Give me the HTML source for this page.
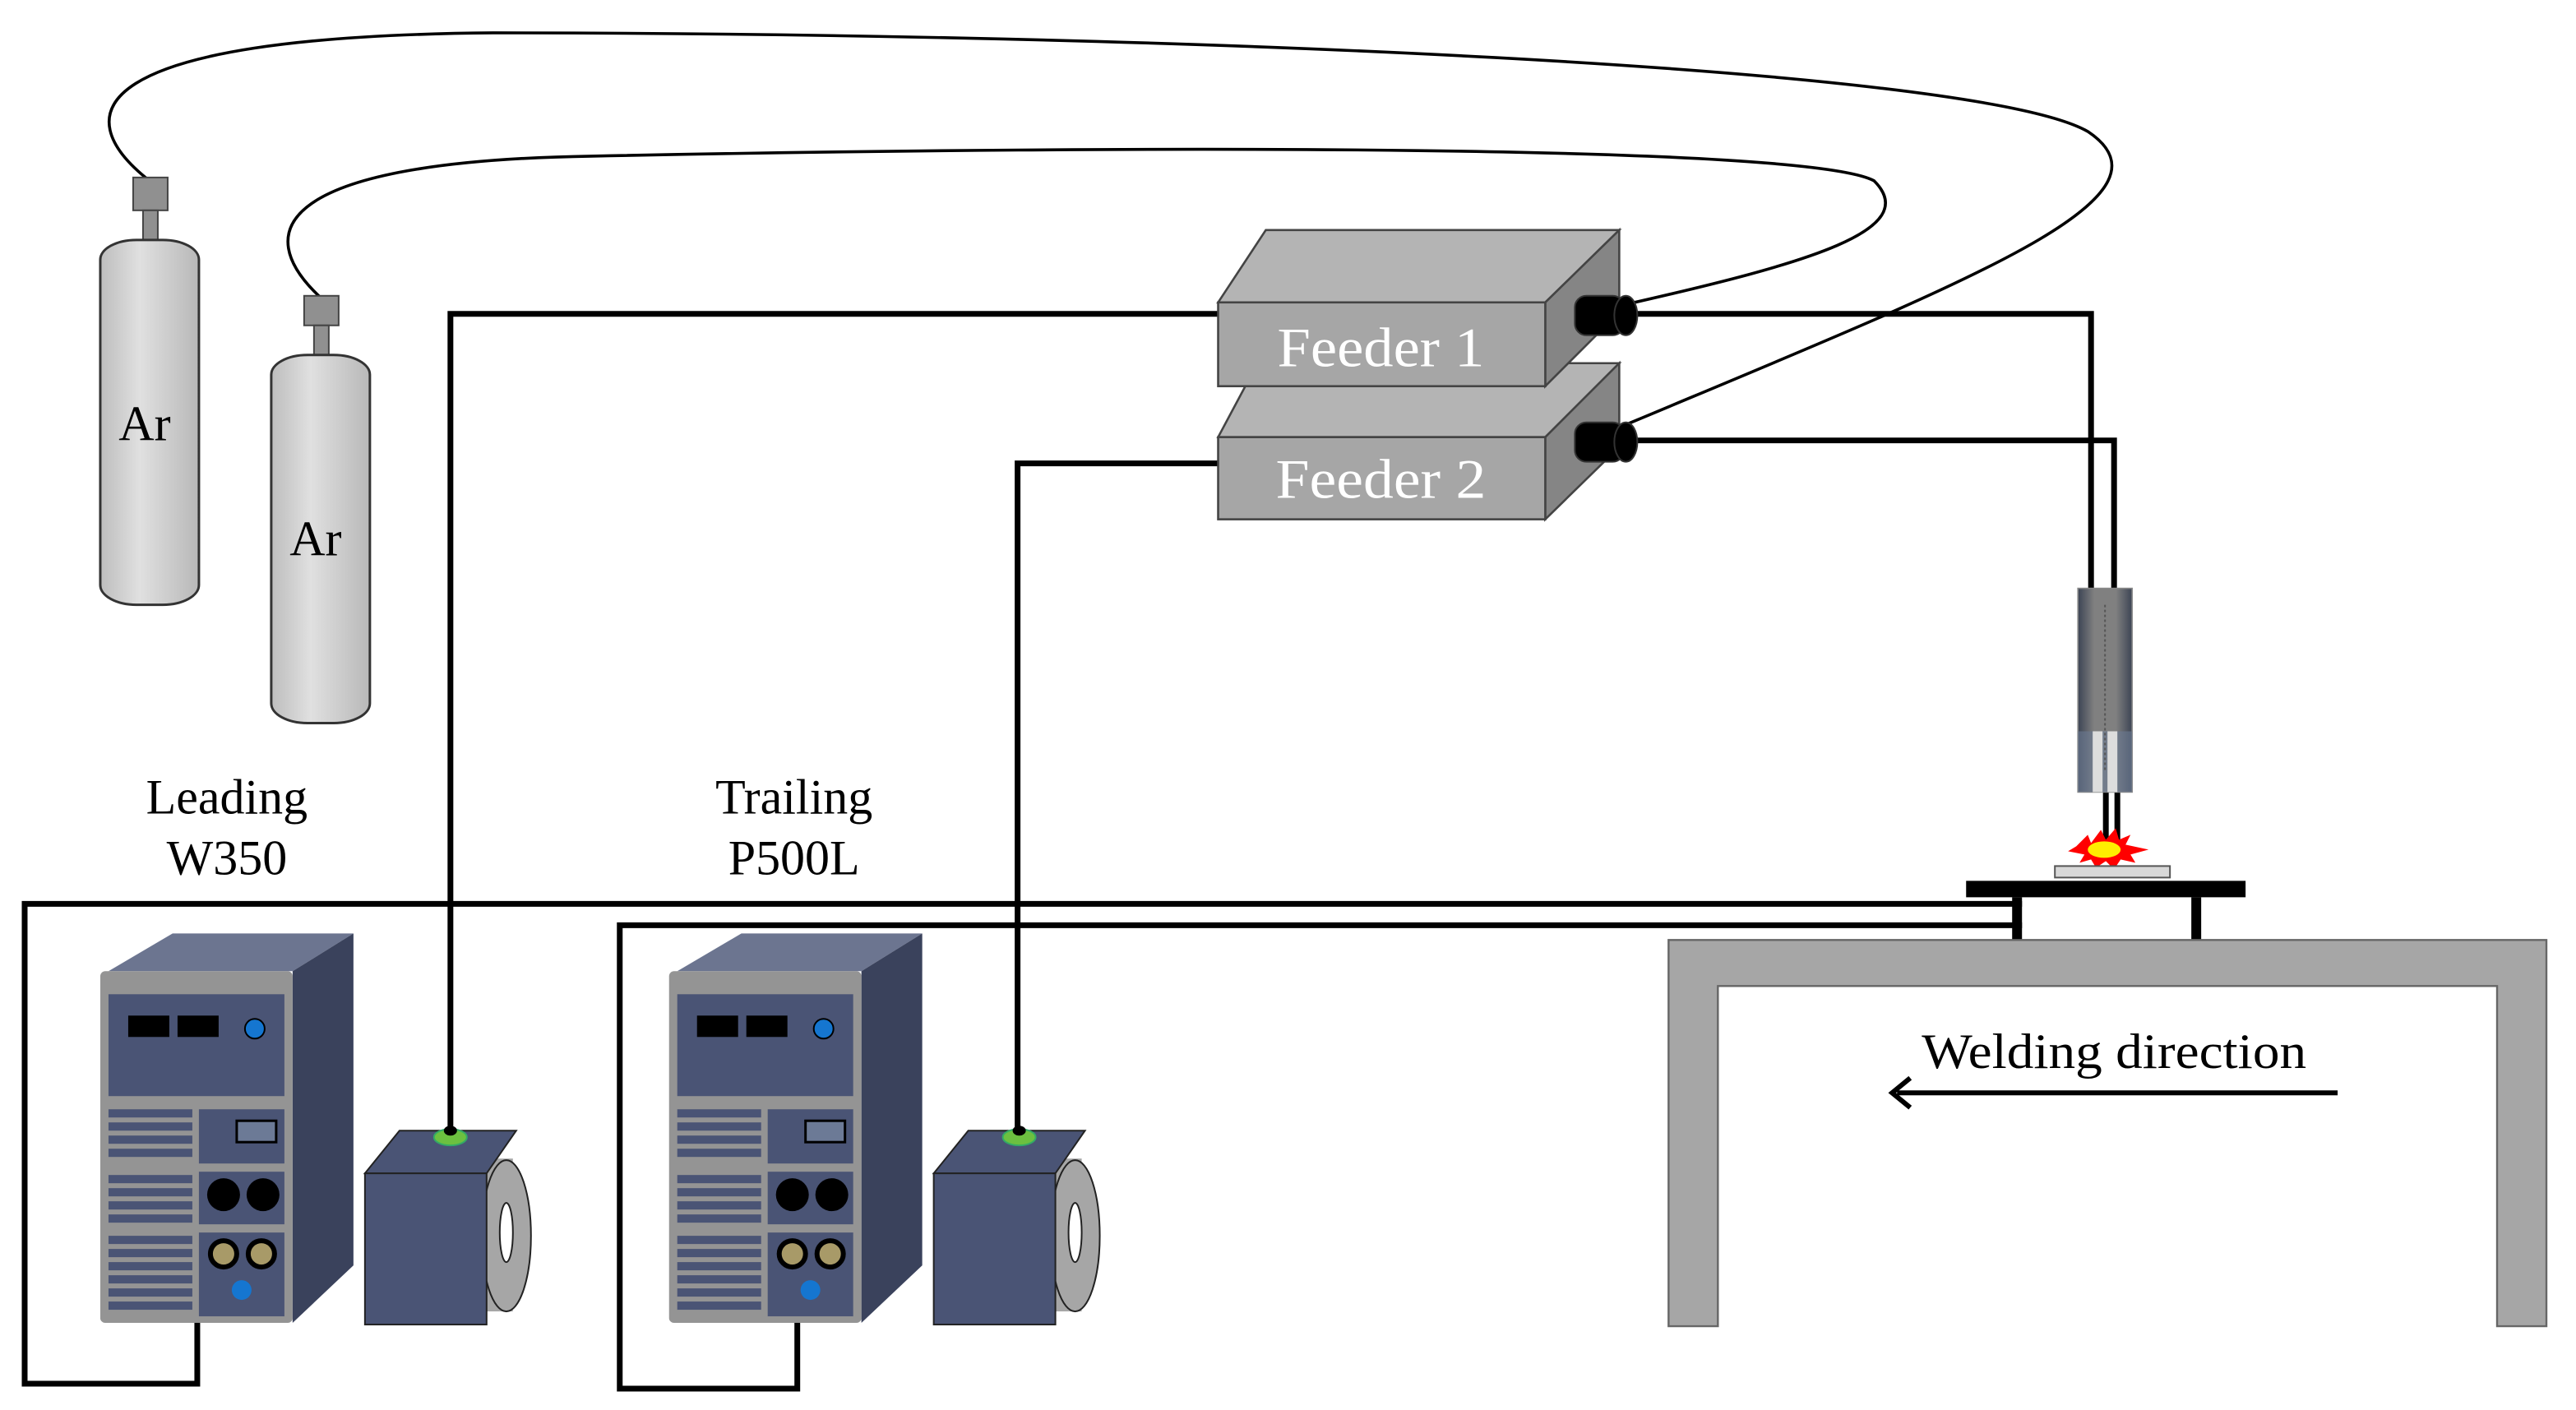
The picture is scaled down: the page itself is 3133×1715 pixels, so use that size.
<!DOCTYPE html>
<html><head><meta charset="utf-8"><style>html,body{margin:0;padding:0;background:#fff}svg{display:block}</style></head>
<body>
<svg width="3133" height="1715" viewBox="0 0 1567 858" preserveAspectRatio="none" xmlns="http://www.w3.org/2000/svg" font-family="Liberation Serif, serif">
<defs>
<linearGradient id="tg" x1="0" x2="1"><stop offset="0" stop-color="#3c4454"/><stop offset="0.3" stop-color="#808080"/><stop offset="0.7" stop-color="#808080"/><stop offset="1" stop-color="#3c4454"/></linearGradient>
<linearGradient id="cg" x1="0" x2="1"><stop offset="0" stop-color="#bdbdbd"/><stop offset="0.4" stop-color="#e0e0e0"/><stop offset="1" stop-color="#b8b8b8"/></linearGradient>
</defs>
<path d="M91,110 C40,70 50,22 300,20 C700,20 1200,40 1270,80 C1330,120 1200,170 990,258" fill="none" stroke="#000" stroke-width="1.8"/>
<path d="M196,182 C150,140 170,98 360,95 C700,88 1100,88 1140,110 C1170,140 1100,160 990,185" fill="none" stroke="#000" stroke-width="1.8"/>
<rect x="81" y="108" width="21" height="20" fill="#909090" stroke="#444"/>
<rect x="87" y="128" width="9" height="18" fill="#909090" stroke="#444"/>
<rect x="61" y="146" width="60" height="222" rx="22" ry="12" fill="url(#cg)" stroke="#333" stroke-width="1.5"/>
<rect x="185" y="180" width="21" height="18" fill="#909090" stroke="#444"/>
<rect x="191" y="198" width="9" height="20" fill="#909090" stroke="#444"/>
<rect x="165" y="216" width="60" height="224" rx="22" ry="12" fill="url(#cg)" stroke="#333" stroke-width="1.5"/>
<text x="88" y="268" font-size="30" text-anchor="middle">Ar</text>
<text x="192" y="338" font-size="30" text-anchor="middle">Ar</text>
<g fill="none" stroke="#000" stroke-width="3.5">
<path d="M741,191 H274 V686"/>
<path d="M741,282 H619 V686"/>
<path d="M995,191 H1272 V360"/>
<path d="M995,268 H1286 V360"/>
<path d="M1281,482 V512 M1288,482 V512"/>
<path d="M1230,550 H15 V842 H120 V805"/>
<path d="M1230,563 H377 V845 H485 V805"/>
</g>
<g stroke="#444" stroke-width="1.3">
<polygon points="741,266 765,221 985,221 940,266" fill="#b4b4b4"/>
<polygon points="940,266 985,221 985,272 940,316" fill="#858585"/>
<rect x="741" y="266" width="199" height="50" fill="#a6a6a6"/>
<polygon points="741,184 770,140 985,140 940,184" fill="#b4b4b4"/>
<polygon points="940,184 985,140 985,190 940,235" fill="#858585"/>
<rect x="741" y="184" width="199" height="51" fill="#a6a6a6"/>
</g>
<text x="840" y="223" font-size="34" fill="#fff" text-anchor="middle" textLength="126" lengthAdjust="spacingAndGlyphs">Feeder 1</text>
<text x="840" y="303" font-size="34" fill="#fff" text-anchor="middle" textLength="128" lengthAdjust="spacingAndGlyphs">Feeder 2</text>
<g fill="#000" stroke="#333">
<rect x="958" y="180" width="30" height="24" rx="7"/><ellipse cx="989" cy="192" rx="7" ry="12"/>
<rect x="958" y="257" width="30" height="24" rx="7"/><ellipse cx="989" cy="269" rx="7" ry="12"/>
</g>
<rect x="1264" y="358" width="33" height="124" fill="url(#tg)" stroke="#888" stroke-width="0.8"/>
<rect x="1264" y="445" width="33" height="37" fill="#6a7a92" opacity="0.6"/>
<rect x="1273" y="445" width="6" height="37" fill="#ddd"/><rect x="1282" y="445" width="6" height="37" fill="#ddd"/>
<line x1="1280.5" y1="368" x2="1280.5" y2="470" stroke="#555" stroke-dasharray="1.5,1.5"/>
<polygon points="1263,515 1270,508 1272,513 1278,505 1281,511 1287,504 1289,511 1296,508 1293,514 1307,517 1296,520 1299,525 1290,523 1286,529 1281,524 1275,528 1272,523 1265,525 1268,520 1258,518" fill="#ff0000"/>
<ellipse cx="1280" cy="517" rx="10" ry="5" fill="#ffee00"/>
<rect x="1250" y="527" width="70" height="7" fill="#d8d8d8" stroke="#555"/>
<rect x="1196" y="536" width="170" height="10" fill="#000"/>
<rect x="1224" y="546" width="6" height="27" fill="#000"/>
<rect x="1333" y="546" width="6" height="27" fill="#000"/>
<path d="M1015,572 H1549 V807 H1519 V600 H1045 V807 H1015 Z" fill="#a6a6a6" stroke="#666" stroke-width="1.2"/>
<text x="1286" y="650" font-size="30" text-anchor="middle" textLength="234" lengthAdjust="spacingAndGlyphs">Welding  direction</text>
<line x1="1154" y1="665" x2="1422" y2="665" stroke="#000" stroke-width="3"/>
<path d="M1162,656 L1151,665 L1162,674" fill="none" stroke="#000" stroke-width="3"/>
<g font-size="30" text-anchor="middle">
<text x="138" y="495">Leading</text><text x="138" y="532">W350</text>
<text x="483" y="495">Trailing</text><text x="483" y="532">P500L</text>
</g>
<g id="ps">
<polygon points="66,591 105,568 215,568 178,591" fill="#6c7590"/>
<polygon points="178,591 215,568 215,770 178,805" fill="#3a425c"/>
<rect x="61" y="591" width="117" height="214" rx="3" fill="#949494"/>
<rect x="66" y="605" width="107" height="62" fill="#4a5475"/>
<rect x="78" y="618" width="25" height="13" fill="#000"/><rect x="108" y="618" width="25" height="13" fill="#000"/>
<circle cx="155" cy="626" r="6" fill="#1576d0" stroke="#000"/>
<g fill="#4a5475">
<rect x="66" y="675" width="51" height="5"/><rect x="66" y="683" width="51" height="5"/><rect x="66" y="691" width="51" height="5"/><rect x="66" y="699" width="51" height="5"/>
<rect x="66" y="715" width="51" height="5"/><rect x="66" y="723" width="51" height="5"/><rect x="66" y="731" width="51" height="5"/><rect x="66" y="739" width="51" height="5"/>
<rect x="66" y="752" width="51" height="5"/><rect x="66" y="760" width="51" height="5"/><rect x="66" y="768" width="51" height="5"/><rect x="66" y="776" width="51" height="5"/><rect x="66" y="784" width="51" height="5"/><rect x="66" y="792" width="51" height="5"/>
<rect x="121" y="675" width="52" height="33"/><rect x="121" y="713" width="52" height="32"/><rect x="121" y="750" width="52" height="51"/>
</g>
<rect x="144" y="682" width="24" height="13" fill="#6c7a96" stroke="#000" stroke-width="1.5"/>
<circle cx="136" cy="727" r="10" fill="#000"/><circle cx="160" cy="727" r="10" fill="#000"/>
<circle cx="136" cy="763" r="8" fill="#a89a68" stroke="#000" stroke-width="3"/><circle cx="159" cy="763" r="8" fill="#a89a68" stroke="#000" stroke-width="3"/>
<circle cx="147" cy="785" r="6" fill="#1576d0"/>
<rect x="290" y="705" width="22" height="93" fill="#a6a6a6"/>
<ellipse cx="308" cy="752" rx="15" ry="46" fill="#a6a6a6" stroke="#222"/>
<ellipse cx="308" cy="750" rx="4" ry="18" fill="#fff" stroke="#222"/>
<polygon points="222,714 243,688 314,688 296,714" fill="#4a5475" stroke="#222"/>
<rect x="222" y="714" width="74" height="92" fill="#4a5475" stroke="#222"/>
<ellipse cx="274" cy="692" rx="10" ry="5" fill="#6cc040" stroke="#3a6"/>
<ellipse cx="274" cy="688" rx="4" ry="3" fill="#000"/>
</g>
<use href="#ps" x="346"/>
</svg>
</body></html>
